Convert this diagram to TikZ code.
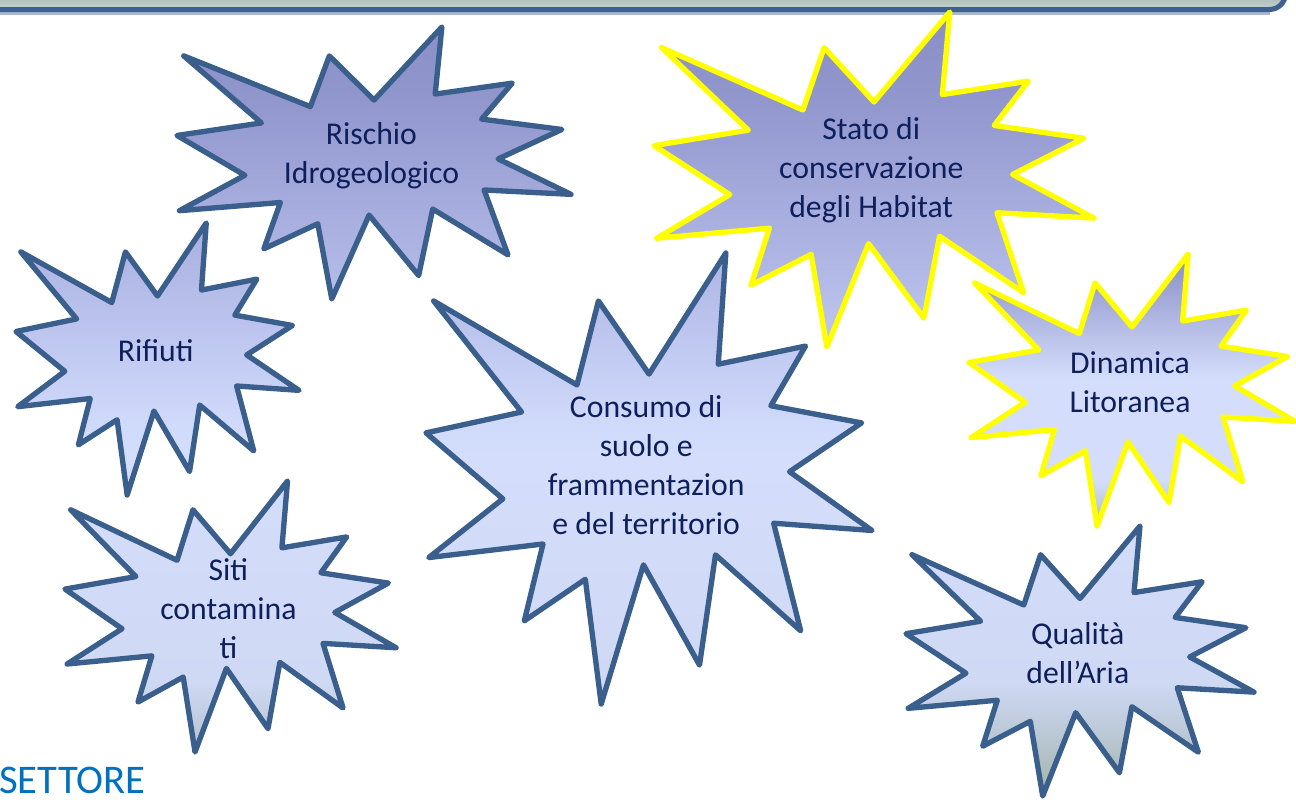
\documentclass[tikz,border=0pt]{standalone}
\usepackage{fontspec}
\setmainfont{Carlito}
\usetikzlibrary{shadings}
\definecolor{outl}{HTML}{3A5F8C}
\definecolor{ylw}{HTML}{FFFF00}
\definecolor{txt}{HTML}{0E1F5B}
\definecolor{settore}{HTML}{0070C0}
\definecolor{g0}{HTML}{898DC5}
\definecolor{g100}{HTML}{9196CD}
\definecolor{g200}{HTML}{A5ABDC}
\definecolor{g300}{HTML}{B6BEEA}
\definecolor{g420}{HTML}{CFD9FA}
\definecolor{g460}{HTML}{D4DEFC}
\definecolor{g680}{HTML}{CFD9F4}
\definecolor{g740}{HTML}{B8C6D2}
\definecolor{g800}{HTML}{A2B3A0}
\definecolor{d90}{HTML}{C0CCE0}
\definecolor{d100}{HTML}{A8B8B8}
\definecolor{bartop}{HTML}{8FA29F}
\definecolor{barbot}{HTML}{C6D2CC}
\definecolor{barline}{HTML}{3D6190}
\definecolor{barshadow}{HTML}{A9B8CE}
\pgfdeclareverticalshading{slidegrad}{100bp}{color(0bp)=(g800); color(25bp)=(g800); color(28.8bp)=(g740); color(32.5bp)=(g680); color(46.3bp)=(g460); color(48.8bp)=(g420); color(56.3bp)=(g300); color(62.5bp)=(g200); color(68.8bp)=(g100); color(75bp)=(g0); color(100bp)=(g0)}
\pgfdeclareverticalshading{dinagrad}{100bp}{color(0bp)=(d100); color(25bp)=(d100); color(29bp)=(d90); color(33.5bp)=(g460); color(52bp)=(g460); color(75bp)=(g0); color(100bp)=(g0)}
\def\sealpath{(0.5,0.26852) -- (0.38667,0.10625) -- (0.33852,0.29259) -- (0.01713,0.10625) -- (0.21421,0.35264) -- (0,0.39884) -- (0.17231,0.54514) -- (0.00625,0.67532) -- (0.26236,0.64523) -- (0.22046,0.8156) -- (0.35718,0.72347) -- (0.39282,1) -- (0.48759,0.69144) -- (0.61329,0.91375) -- (0.64907,0.66931) -- (0.84005,0.83773) -- (0.77949,0.59917) -- (1,0.61528) -- (0.81514,0.48495) -- (0.97671,0.37671) -- (0.77324,0.33866) -- (0.85093,0.20634) -- (0.65532,0.24653) -- (0.67231,0) -- cycle}
% #1 x0, #2 y0, #3 w, #4 h, #5 shading, #6 shaded area, #7 outline style
\newcommand\explosion[7]{%
  \begin{scope}
    \clip[shift={(#1,#2)},xscale=#3,yscale=#4] \sealpath;
    \shade[shading=#5] #6;
  \end{scope}
  \draw[#7,shift={(#1,#2)},xscale=#3,yscale=#4] \sealpath;
}
\tikzset{
  blueline/.style={draw=outl,line width=4pt,line join=round},
  yellowline/.style={draw=ylw,line width=4pt,line join=round},
  label/.style={text=txt,align=center,inner sep=0pt,font=\fontsize{23.8}{29.3}\selectfont},
}
\begin{document}
\begin{tikzpicture}[x=0.75pt,y=-0.75pt]
\useasboundingbox (0,0) rectangle (1296,801);
\fill[white] (0,0) rectangle (1296,801);
% top bar
\draw[barshadow,line width=2pt] (0,13.5) -- (1270,13.5);
\draw[barline,line width=3.75pt,top color=bartop,bottom color=barbot,rounded corners=12] (-20,-20) rectangle (1285.5,9.5);
% explosions
\explosion{177}{27}{394}{272}{slidegrad}{(0,0) rectangle (1296,801)}{blueline}
\explosion{16}{223}{283}{272}{slidegrad}{(0,0) rectangle (1296,801)}{blueline}
\explosion{65}{481}{331}{271}{slidegrad}{(0,0) rectangle (1296,801)}{blueline}
\explosion{426}{253}{446}{451}{slidegrad}{(0,0) rectangle (1296,801)}{blueline}
\explosion{654}{12}{440}{335}{slidegrad}{(0,0) rectangle (1296,801)}{yellowline}
\explosion{969}{254}{326}{272}{dinagrad}{(969,254) rectangle (1295,526)}{yellowline}
\explosion{906}{526}{348}{270}{slidegrad}{(0,0) rectangle (1296,801)}{blueline}
% labels
\node[label] (rischio) at (371.5,155.5) {Rischio\\Idrogeologico};
\node[label] (rifiuti) at (155.7,350.5) {Rifiuti};
\node[label] (siti) at (228.4,608.5) {Siti\\contamina\\ti};
\node[label] (consumo) at (646.2,465) {Consumo di\\suolo e\\frammentazion\\e del territorio};
\node[label] (stato) at (871.2,170) {Stato di\\conservazione\\degli Habitat};
\node[label] (dinamica) at (1130,382) {Dinamica\\Litoranea};
\node[label] (qualita) at (1077.8,653.5) {Qualità\\dell’Aria};
\node[anchor=base west,inner sep=0pt,text=settore,font=\fontsize{30.5}{36}\selectfont] (settore) at (-1,793) {SETTORE};
\end{tikzpicture}
\end{document}
